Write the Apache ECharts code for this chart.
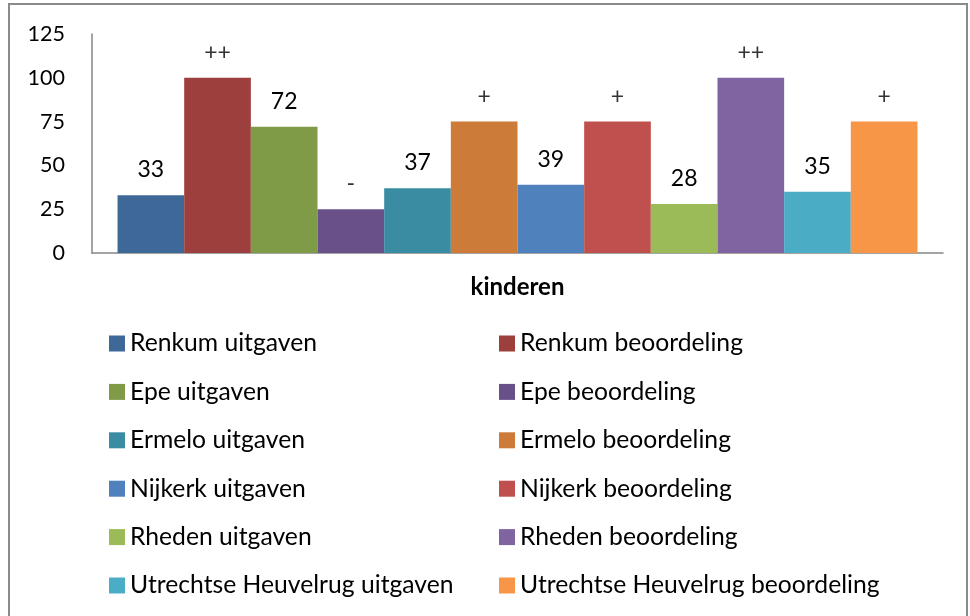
<!DOCTYPE html>
<html>
<head>
<meta charset="utf-8">
<script src="https://cdn.jsdelivr.net/npm/echarts@6/dist/echarts.min.js"></script>
<style>
  html, body { margin: 0; padding: 0; background: #fff; }
  .frame { position: absolute; left: 8px; top: 3px; width: 956px; height: 640px; border: 2px solid #8a8a8a; }
  #chart { position: absolute; left: 0; top: 0; width: 970px; height: 616px; }
</style>
</head>
<body>
<div class="frame"></div>
<div id="chart"></div>
<script>
// categorie en reeksen
const categories = ['kinderen']
const seriesNames = [
  'Renkum uitgaven', 'Renkum beoordeling',
  'Epe uitgaven', 'Epe beoordeling',
  'Ermelo uitgaven', 'Ermelo beoordeling',
  'Nijkerk uitgaven', 'Nijkerk beoordeling',
  'Rheden uitgaven', 'Rheden beoordeling',
  'Utrechtse Heuvelrug uitgaven', 'Utrechtse Heuvelrug beoordeling'
]
const seriesValues = [33, 100, 72, 25, 37, 75, 39, 75, 28, 100, 35, 75]
// label boven de balk (beoordeling toont symbool)
const seriesLabels = ['33', '++', '72', '-', '37', '+', '39', '+', '28', '++', '35', '+']
const colorList = ['#3e6898', '#9d3f3c', '#7f9b48', '#6a5088', '#3a8ca3', '#cc7b38',
  '#4f81bd', '#c0504d', '#9bbb59', '#8064a2', '#4bacc6', '#f79646']
const yTicks = { min: 0, max: 125, interval: 25 }

const fontName = 'Lato'
const option = {
  color: colorList,
  animation: false,
  textStyle: { fontFamily: fontName },
  grid: {
    left: 92,
    right: 27,
    top: 34,
    bottom: 363,
    containLabel: false
  },
  legend: [
    {
      orient: 'vertical',
      left: 109,
      top: 331,
      padding: 0,
      icon: 'rect',
      itemWidth: 16,
      itemHeight: 16,
      itemGap: 23.4,
      textStyle: { fontFamily: fontName, fontSize: 24.7, lineHeight: 24, color: '#000' },
      data: seriesNames.filter((n, i) => i % 2 === 0)
    },
    {
      orient: 'vertical',
      left: 499,
      top: 331,
      padding: 0,
      icon: 'rect',
      itemWidth: 16,
      itemHeight: 16,
      itemGap: 23.4,
      textStyle: { fontFamily: fontName, fontSize: 24.7, lineHeight: 24, color: '#000' },
      data: seriesNames.filter((n, i) => i % 2 === 1)
    }
  ],
  xAxis: {
    type: 'category',
    data: categories,
    axisLine: { lineStyle: { color: '#868686', width: 1.5 } },
    axisTick: { show: false },
    axisLabel: {
      margin: 22,
      fontFamily: fontName,
      fontSize: 24,
      fontWeight: 'bold',
      color: '#000'
    }
  },
  yAxis: {
    type: 'value',
    min: yTicks.min,
    max: yTicks.max,
    interval: yTicks.interval,
    axisLine: { show: true, lineStyle: { color: '#868686', width: 1.5 } },
    axisTick: { show: false },
    splitLine: { show: false },
    axisLabel: {
      margin: 27,
      fontFamily: fontName,
      fontSize: 21.5,
      color: '#000'
    }
  },
  series: []
}

for (let i = 0; i < seriesNames.length; i++) {
  option.series.push({
    name: seriesNames[i],
    type: 'bar',
    barGap: '0%',
    barCategoryGap: '6%',
    label: {
      show: true,
      position: 'top',
      distance: 14,
      fontFamily: fontName,
      fontSize: 23,
      color: i % 2 === 0 ? '#000' : '#333',
      formatter: () => seriesLabels[i]
    },
    data: [seriesValues[i]]
  })
}

const chart = echarts.init(document.getElementById('chart'))
chart.setOption(option)
</script>
</body>
</html>
